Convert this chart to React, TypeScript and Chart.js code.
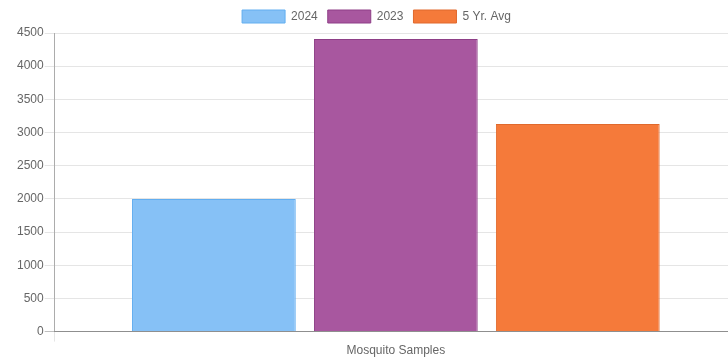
import React, { useEffect, useRef } from "react";
import { Chart, registerables } from "chart.js";

Chart.register(...registerables);

const categories = ["Mosquito Samples"];
const seriesNames = ["2024", "2023", "5 Yr. Avg"];
const values2024 = [2000];
const values2023 = [4410];
const valuesAvg = [3130];
const yTicksMax = 4500;
const yTickStep = 500;

const fills = ["#86C1F6", "#A8579F", "#F57A3A"];
const borders = ["#62AEF0", "#8E3F87", "#E0692C"];

export default function App() {
  const ref = useRef<HTMLCanvasElement | null>(null);
  useEffect(() => {
    if (!ref.current) return;
    Chart.defaults.font.family = "'Liberation Sans', Arial, Helvetica, sans-serif";
    Chart.defaults.font.size = 12;
    Chart.defaults.color = "#666";
    const data = [values2024, values2023, valuesAvg];
    const chart = new Chart(ref.current, {
      type: "bar",
      data: {
        labels: categories,
        datasets: seriesNames.map((name, i) => ({
          label: name,
          data: data[i],
          backgroundColor: fills[i],
          borderColor: borders[i],
          borderWidth: 1,
        })),
      },
      options: {
        responsive: false,
        animation: false,
        devicePixelRatio: 1,
        layout: { padding: 0 },
        plugins: {
          legend: {
            position: "top",
            labels: { boxWidth: 43, boxHeight: 13, padding: 10, color: "#666" },
          },
          tooltip: { enabled: false },
        },
        scales: {
          x: {
            grid: {
              color: "rgba(0,0,0,0.1)",
              tickLength: 10,
              offset: true,
            },
            border: { color: "rgba(0,0,0,0.25)" },
            ticks: { padding: 2, color: "#666" },
          },
          y: {
            min: 0,
            max: yTicksMax,
            ticks: {
              stepSize: yTickStep,
              padding: 1,
              color: "#666",
              callback: (v: any) => String(v),
            },
            grid: {
              color: (ctx: any) => (ctx.tick && ctx.tick.value === 0 ? "rgba(0,0,0,0.25)" : "rgba(0,0,0,0.1)"),
              tickLength: 10,
            },
            border: { color: "rgba(0,0,0,0.25)" },
          },
        },
      },
    });
    return () => chart.destroy();
  }, []);
  return (
    <div style={{ position: "fixed", left: 0, top: 0, width: 728, height: 360, overflow: "hidden", background: "#fff" }}>
      <canvas ref={ref} width={721} height={360} style={{ position: "absolute", left: 16, top: 0, width: 721, height: 360 }} />
    </div>
  );
}
